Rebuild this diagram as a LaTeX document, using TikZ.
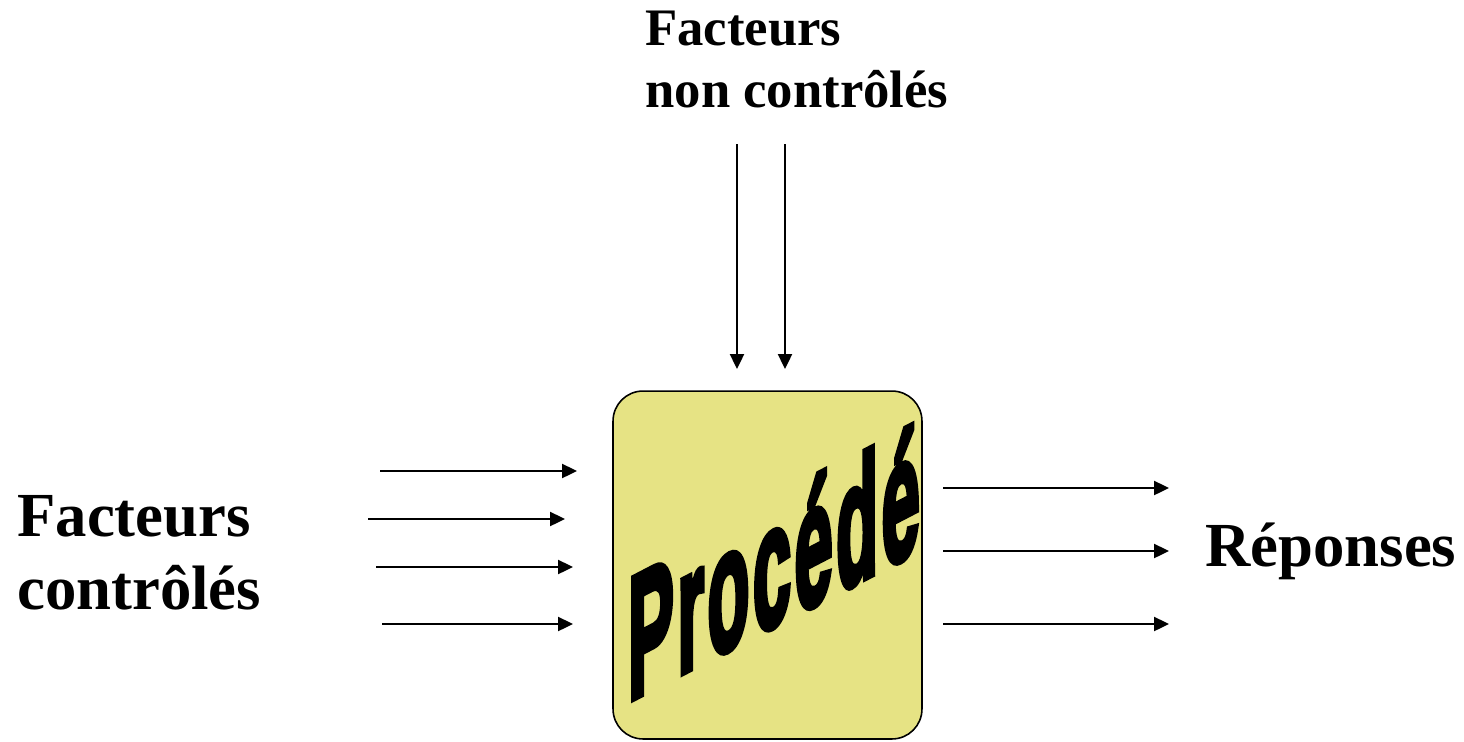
\documentclass[tikz,border=0pt]{standalone}
\usepackage{fontspec}
\setmainfont{Liberation Serif}
\newfontfamily\wordfont[BoldFeatures={FakeBold=4.5, LetterSpace=5}]{Liberation Sans}
\usetikzlibrary{arrows.meta}

\definecolor{boxyellow}{HTML}{E6E384}

\begin{document}
\begin{tikzpicture}[x=0.02cm, y=0.02cm,
    >={Triangle[length=8.5pt,width=8pt]},
    flow/.style={->, line width=1.1pt},
    bigtext/.style={font=\bfseries\fontsize{35.7}{41.4}\selectfont, align=left, inner sep=0pt},
    smalltext/.style={font=\bfseries\fontsize{30}{35}\selectfont, align=left, inner sep=0pt}]
      \useasboundingbox (0,0) rectangle (1464,-741);

      % the process block
      \node (proc) [draw, line width=0.9pt, fill=boxyellow, rounded corners=0.6cm,
        minimum width=6.18cm, minimum height=6.96cm] at (767.5,-565) {};
      \begin{scope}[shift={(628,-701)}, yslant=0.52, xscale=0.395]
        \node (word) [transform shape, anchor=base west, inner sep=0pt,
          font=\wordfont\bfseries\fontsize{99}{99}\selectfont] at (0,0) {Procédé};
      \end{scope}

      % labels
      \node (ctrl) [bigtext, anchor=north west] at (17,-495) {Facteurs\\contrôlés};
      \node (unctrl) [smalltext, anchor=north west] at (645,-11) {Facteurs\\non contrôlés};
      \node (resp) [bigtext, anchor=base west] at (1205,-566) {Réponses};

      % arrow ends
      \coordinate (in1a) at (380,-471);  \coordinate (in1b) at (577,-471);
      \coordinate (in2a) at (368,-519);  \coordinate (in2b) at (565,-519);
      \coordinate (in3a) at (376,-567);  \coordinate (in3b) at (573,-567);
      \coordinate (in4a) at (382,-624);  \coordinate (in4b) at (573,-624);
      \coordinate (out1a) at (943,-488); \coordinate (out1b) at (1169,-488);
      \coordinate (out2a) at (943,-551); \coordinate (out2b) at (1169,-551);
      \coordinate (out3a) at (943,-624); \coordinate (out3b) at (1169,-624);
      \coordinate (dist1a) at (737,-144); \coordinate (dist1b) at (737,-369);
      \coordinate (dist2a) at (785,-144); \coordinate (dist2b) at (785,-369);

      \draw[flow] (in1a) -- (in1b);
      \draw[flow] (in2a) -- (in2b);
      \draw[flow] (in3a) -- (in3b);
      \draw[flow] (in4a) -- (in4b);
      \draw[flow] (out1a) -- (out1b);
      \draw[flow] (out2a) -- (out2b);
      \draw[flow] (out3a) -- (out3b);
      \draw[flow] (dist1a) -- (dist1b);
      \draw[flow] (dist2a) -- (dist2b);
\end{tikzpicture}
\end{document}
